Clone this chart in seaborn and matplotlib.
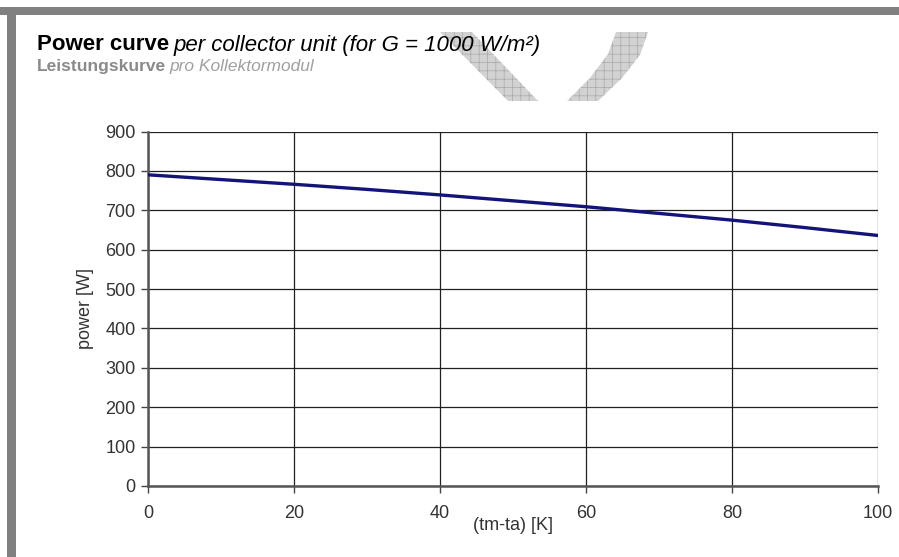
import matplotlib
matplotlib.use("Agg")
import matplotlib.pyplot as plt
import seaborn as sns
import pandas as pd
from matplotlib.patches import Polygon, Rectangle

# data
temp_diff = [0, 10, 20, 30, 40, 50, 60, 70, 80, 90, 100]
power = [790, 778, 766, 753, 739, 724, 709, 692, 675, 656, 636]
x_ticks = [0, 20, 40, 60, 80, 100]
y_ticks = [0, 100, 200, 300, 400, 500, 600, 700, 800, 900]

sns.set_theme(style="white")
plt.rcParams['font.family'] = ['Liberation Sans', 'DejaVu Sans']

df = pd.DataFrame({"dT": temp_diff, "P": power})

fig = plt.figure(figsize=(8.99, 5.57), dpi=100)
fig.patch.set_facecolor("white")

# frame bands (top and left)
fig.patches.append(Rectangle((0, 1 - 15 / 557), 1, 8 / 557, transform=fig.transFigure,
                             facecolor="#808080", edgecolor="none", zorder=0))
fig.patches.append(Rectangle((7 / 899, 0), 9 / 899, 1 - 7 / 557, transform=fig.transFigure,
                             facecolor="#808080", edgecolor="none", zorder=0))

# watermark shapes
def fpt(x, y):
    return (x / 899, 1 - y / 557)

plt.rcParams['hatch.color'] = '#a8a8a8'
plt.rcParams['hatch.linewidth'] = 0.5
wm1 = Polygon([fpt(440, 32), fpt(472, 32), fpt(538, 101), fpt(508, 101)], closed=True,
              transform=fig.transFigure, facecolor="#d2d2d2", edgecolor="#a8a8a8",
              hatch="++", linewidth=0, zorder=0)
wm2 = Polygon([fpt(567, 101), fpt(598, 101), fpt(622, 78), fpt(640, 55), fpt(648, 32),
               fpt(616, 32), fpt(608, 54), fpt(590, 78)], closed=True,
              transform=fig.transFigure, facecolor="#d2d2d2", edgecolor="#a8a8a8",
              hatch="++", linewidth=0, zorder=0)
fig.patches.append(wm1)
fig.patches.append(wm2)

ax = fig.add_axes([148 / 899, 1 - 486 / 557, (878 - 148) / 899, (486 - 131.5) / 557])
ax.set_facecolor("white")

sns.lineplot(data=df, x="dT", y="P", ax=ax, color="#141478", linewidth=2.4, zorder=5)

ax.set_xlim(0, 100)
ax.set_ylim(0, 900)
ax.set_xticks(x_ticks)
ax.set_yticks(y_ticks)
ax.grid(True, color="#202020", linewidth=0.9)
ax.set_axisbelow(True)

for s in ["top", "right"]:
    ax.spines[s].set_visible(False)
ax.spines["left"].set_color("#555555")
ax.spines["left"].set_linewidth(1.8)
ax.spines["bottom"].set_color("#555555")
ax.spines["bottom"].set_linewidth(1.8)

ax.tick_params(axis="both", which="major", direction="out", length=5, width=1,
               color="#444444", labelsize=13, labelcolor="#333333", left=True, bottom=True)
ax.tick_params(axis="x", pad=9)
ax.tick_params(axis="y", pad=4)

ax.set_xlabel("(tm-ta) [K]", fontsize=13, color="#333333", labelpad=-4)
ax.set_ylabel("power [W]", fontsize=13, color="#333333", labelpad=8)

# titles
t1 = fig.text(37 / 899, 1 - 45 / 557, "Power curve", fontsize=16, fontweight="bold",
              color="black", va="center", ha="left")
fig.canvas.draw()
bb = t1.get_window_extent()
fig.text(bb.x1 / 899 + 4 / 899, 1 - 45 / 557, "per collector unit (for G = 1000 W/m²)",
         fontsize=16, fontstyle="italic", color="black", va="center", ha="left")
t2 = fig.text(37 / 899, 1 - 67 / 557, "Leistungskurve", fontsize=12.5, fontweight="bold",
              color="#8a8a8a", va="center", ha="left")
fig.canvas.draw()
bb2 = t2.get_window_extent()
fig.text(bb2.x1 / 899 + 3 / 899, 1 - 67 / 557, "pro Kollektormodul", fontsize=12.5,
         fontstyle="italic", color="#a0a0a0", va="center", ha="left")

fig.savefig("out.png", dpi=100, facecolor="white")
